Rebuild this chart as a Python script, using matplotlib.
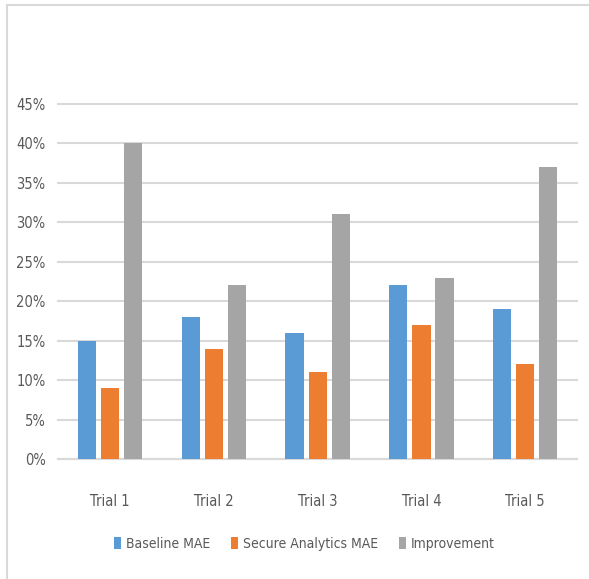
import matplotlib
matplotlib.use('Agg')
import matplotlib.pyplot as plt
import numpy as np
from matplotlib.patches import Rectangle
from matplotlib.ticker import PercentFormatter

trials = ['Trial 1', 'Trial 2', 'Trial 3', 'Trial 4', 'Trial 5']
baseline_mae = [0.15, 0.18, 0.16, 0.22, 0.19]
secure_mae = [0.09, 0.14, 0.11, 0.17, 0.12]
improvement = [0.40, 0.22, 0.31, 0.23, 0.37]

plt.rcParams['font.family'] = ['DejaVu Sans']
plt.rcParams['font.stretch'] = 'condensed'

fig = plt.figure(figsize=(5.89, 5.79), dpi=100)
ax = fig.add_axes([0.0985, 0.2073, 0.8815, 0.6131])

# light border around the chart area
fig.patches.append(Rectangle((7 / 589, -0.1), 1.2, 1 - 5 / 579 + 0.1, transform=fig.transFigure,
                             fill=False, edgecolor='#d9d9d9', linewidth=1.5))

x = np.arange(len(trials))
w = 0.175
step = 0.222
ax.bar(x - step, baseline_mae, w, color='#5B9BD5', label='Baseline MAE', zorder=3)
ax.bar(x, secure_mae, w, color='#ED7D31', label='Secure Analytics MAE', zorder=3)
ax.bar(x + step, improvement, w, color='#A5A5A5', label='Improvement', zorder=3)

ax.set_xlim(-0.5, len(trials) - 0.5)
ax.set_ylim(0, 0.45)
ax.set_yticks(np.arange(0, 0.46, 0.05))
ax.yaxis.set_major_formatter(PercentFormatter(1.0, decimals=0))
ax.set_xticks(x)
ax.set_xticklabels(trials)
ax.grid(axis='y', color='#d9d9d9', linewidth=1.5, zorder=0)
for gl in ax.get_ygridlines():
    gl.set_clip_on(False)
for s in ['top', 'right', 'left']:
    ax.spines[s].set_visible(False)
ax.spines['bottom'].set_color('#d9d9d9')
ax.spines['bottom'].set_linewidth(1.5)
ax.tick_params(axis='both', length=0, labelsize=10.5, labelcolor='#595959')
ax.tick_params(axis='x', pad=25)
ax.tick_params(axis='y', pad=9)

leg = fig.legend(loc='center', bbox_to_anchor=(0.517, 0.0604), ncol=3, frameon=False,
                 fontsize=10, handlelength=0.5, handleheight=1.0, handletextpad=0.36,
                 columnspacing=1.5, labelcolor='#595959')

fig.savefig('out.png', dpi=100)
